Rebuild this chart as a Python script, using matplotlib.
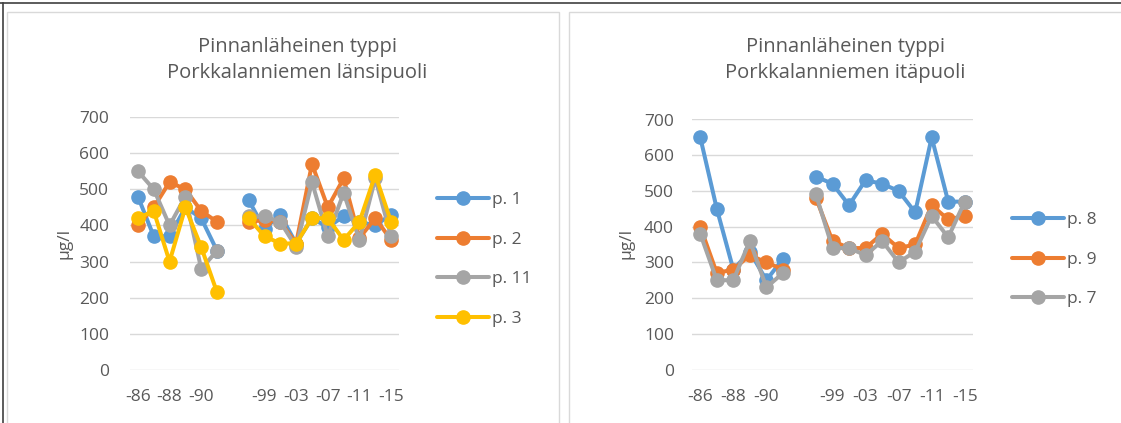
import numpy as np
import matplotlib
matplotlib.use("Agg")
import matplotlib.pyplot as plt
from matplotlib.lines import Line2D
from matplotlib.patches import Rectangle

plt.rcParams['font.family'] = ['Open Sans', 'DejaVu Sans']

nan = np.nan
# categories (17 slots, one empty gap slot between the two periods)
categories = ['-86', '-87', '-88', '-89', '-90', '-91', '',
              '-97', '-99', '-01', '-03', '-05', '-07', '-09', '-11', '-13', '-15']

# Left panel: Porkkalanniemen länsipuoli
p1 = [480, 370, 370, 450, 420, 330, nan, 470, 390, 430, 350, 420, 395, 425, 410, 400, 430]
p2 = [400, 450, 520, 500, 440, 410, nan, 410, 415, 410, 350, 570, 450, 530, 365, 420, 360]
p11 = [550, 500, 400, 480, 280, 330, nan, 425, 425, 410, 340, 520, 370, 490, 360, 530, 370]
p3 = [420, 440, 300, 450, 340, 215, nan, 420, 370, 350, 350, 420, 420, 360, 410, 540, 410]

# Right panel: Porkkalanniemen itäpuoli
p8 = [650, 450, 280, 330, 250, 310, nan, 540, 520, 460, 530, 520, 500, 440, 650, 470, 470]
p9 = [400, 270, 280, 320, 300, 280, nan, 480, 360, 340, 340, 380, 340, 350, 460, 420, 430]
p7 = [380, 250, 250, 360, 230, 270, nan, 490, 340, 340, 320, 360, 300, 330, 430, 370, 470]

left_series = [('p. 1', p1), ('p. 2', p2), ('p. 11', p11), ('p. 3', p3)]
right_series = [('p. 8', p8), ('p. 9', p9), ('p. 7', p7)]
left_colors = ['#5B9BD5', '#ED7D31', '#A5A5A5', '#FFC000']
right_colors = ['#5B9BD5', '#ED7D31', '#A5A5A5']

left_title = "Pinnanläheinen typpi\nPorkkalanniemen länsipuoli"
right_title = "Pinnanläheinen typpi\nPorkkalanniemen itäpuoli"
ylabel = "µg/l"
yticks = [0, 100, 200, 300, 400, 500, 600, 700]

W, H = 1121, 423
fig = plt.figure(figsize=(W / 100, H / 100), dpi=100)
TXT = '#595959'
FS = 12.5

# panel frames
fig.add_artist(Rectangle((7 / W, -0.1), (559 - 7) / W, (H - 12) / H + 0.1,
                         transform=fig.transFigure, fill=False, ec='#d9d9d9', lw=1))
fig.add_artist(Rectangle((569 / W, -0.1), (1125 - 569) / W, (H - 12) / H + 0.1,
                         transform=fig.transFigure, fill=False, ec='#d9d9d9', lw=1))
fig.add_artist(Line2D([0, 1], [(H - 3) / H] * 2, transform=fig.transFigure, color='#404040', lw=1.2))
fig.add_artist(Line2D([3 / W] * 2, [0, (H - 3) / H], transform=fig.transFigure, color='#404040', lw=1.2))


def make_panel(rect, series, colors, title, title_x, ylab_x, leg_anchor, ypad):
    ax = fig.add_axes(rect)
    x = np.arange(len(categories))
    handles = []
    for (name, vals), c in zip(series, colors):
        ln, = ax.plot(x, np.array(vals, dtype=float), color=c, lw=2.9, marker='o',
                      markersize=9.5, solid_capstyle='round', solid_joinstyle='round', label=name)
        handles.append(ln)
    ax.set_xlim(-0.5, len(categories) - 0.5)
    ax.set_ylim(0, 700)
    ax.set_yticks(yticks)
    ax.set_xticks(x[::2])
    ax.set_xticklabels(categories[::2])
    ax.grid(axis='y', color='#d9d9d9', lw=1)
    ax.set_axisbelow(True)
    for s in ax.spines.values():
        s.set_visible(False)
    ax.tick_params(axis='both', length=0, labelsize=FS, labelcolor=TXT)
    ax.tick_params(axis='x', pad=14)
    ax.tick_params(axis='y', pad=ypad)
    fig.text(title_x / W, (H - 60) / H, title, ha='center', va='center',
             fontsize=14.5, color=TXT, linespacing=1.45)
    fig.text(ylab_x / W, (H - 243) / H, ylabel, rotation=90, ha='center', va='center',
             fontsize=FS, color=TXT)
    fig.legend(handles=handles, loc='upper left', bbox_to_anchor=leg_anchor,
               bbox_transform=fig.transFigure, frameon=False, borderpad=0,
               borderaxespad=0, fontsize=FS, labelcolor=TXT, handlelength=3.0,
               handletextpad=0.15, labelspacing=1.35)
    return ax


make_panel([130 / W, (H - 370) / H, 269 / W, 253 / H], left_series, left_colors,
           left_title, 297, 64, (437 / W, (H - 192) / H), 15)
make_panel([692 / W, (H - 369.5) / H, 281 / W, 250 / H], right_series, right_colors,
           right_title, 845, 626, (1012 / W, (H - 212) / H), 13)

fig.savefig('out.png', dpi=100, facecolor='white')
